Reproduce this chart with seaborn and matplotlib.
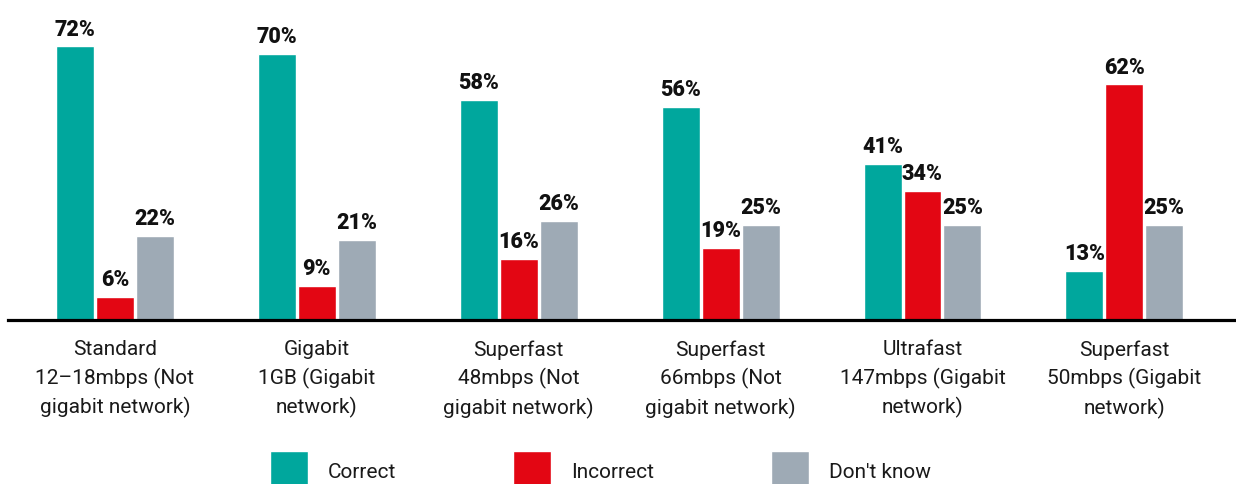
import pandas as pd
import matplotlib
matplotlib.use("Agg")
import matplotlib.pyplot as plt
import seaborn as sns

# Survey answers per broadband package (share of respondents, %)
categories = [
    "Standard\n12–18mbps (Not\ngigabit network)",
    "Gigabit\n1GB (Gigabit\nnetwork)",
    "Superfast\n48mbps (Not\ngigabit network)",
    "Superfast\n66mbps (Not\ngigabit network)",
    "Ultrafast\n147mbps (Gigabit\nnetwork)",
    "Superfast\n50mbps (Gigabit\nnetwork)",
]
answers = ["Correct", "Incorrect", "Don't know"]
correct = [72, 70, 58, 56, 41, 13]
incorrect = [6, 9, 16, 19, 34, 62]
dont_know = [22, 21, 26, 25, 25, 25]

colors = {"Correct": "#00A79D", "Incorrect": "#E30613", "Don't know": "#9EAAB5"}

# long format for seaborn
df = pd.DataFrame({
    "package": categories * 3,
    "answer": [a for a in answers for _ in categories],
    "share": correct + incorrect + dont_know,
})

sns.set_style("white")
plt.rcParams["font.family"] = ["Roboto", "DejaVu Sans"]

fig = plt.figure(figsize=(12.36, 4.85), dpi=100)
ax = fig.add_axes([8 / 1236, 164 / 485, 1228 / 1236, 321 / 485])

sns.barplot(data=df, x="package", y="share", hue="answer", hue_order=answers,
            palette=colors, saturation=1, width=0.594, gap=0.05, ax=ax)

for cont in ax.containers:
    ax.bar_label(cont, fmt="%g%%", padding=5, fontsize=15.5, fontweight="black",
                 color="#111111")

ax.set_xlim(-0.53, 5.553)
ax.set_ylim(0, 84.5)
ax.set_xlabel("")
ax.set_ylabel("")
ax.set_yticks([])
ax.tick_params(axis="x", length=0, pad=14, labelsize=15, labelcolor="#1a1a1a")
for lbl in ax.get_xticklabels():
    lbl.set_linespacing(1.5)

for s in ["left", "right", "top"]:
    ax.spines[s].set_visible(False)
ax.spines["bottom"].set_color("black")
ax.spines["bottom"].set_linewidth(2.3)

sns.move_legend(ax, "upper left", bbox_to_anchor=(270 / 1236, 33 / 485),
                bbox_transform=fig.transFigure, ncol=3, frameon=False, title=None,
                fontsize=15, handlelength=1.83, handleheight=2.5,
                handletextpad=0.96, columnspacing=5.6, borderpad=0,
                borderaxespad=0, labelcolor="#1a1a1a")

plt.savefig("out.png", dpi=100)
